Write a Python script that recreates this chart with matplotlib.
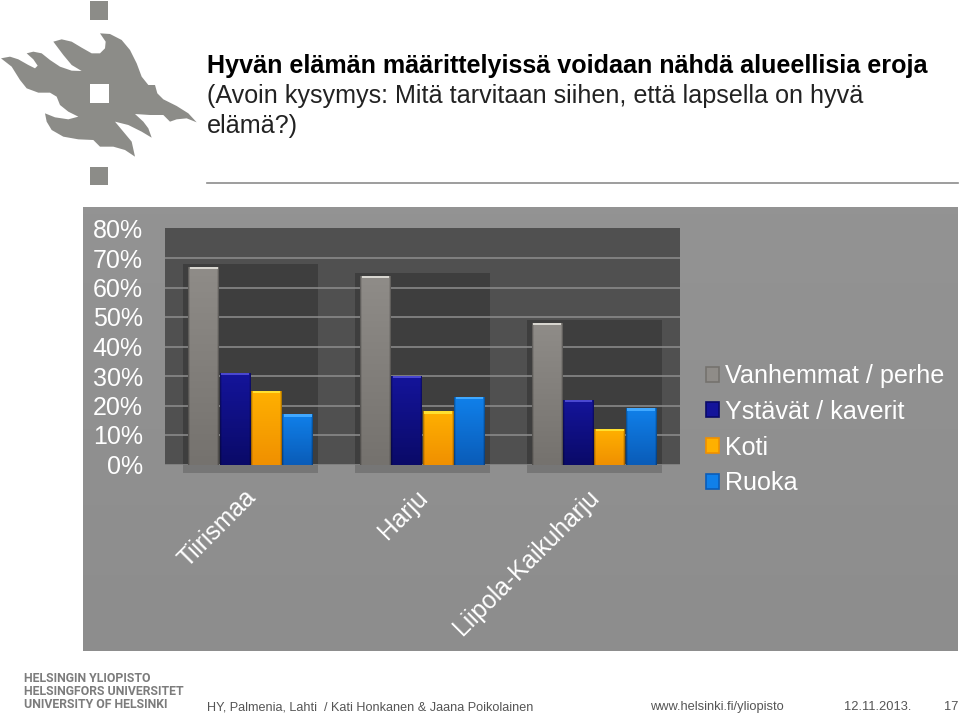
import numpy as np
import matplotlib
matplotlib.use("Agg")
import matplotlib.pyplot as plt
from matplotlib.patches import Patch, Polygon, Rectangle

plt.rcParams['font.family'] = ['Liberation Sans', 'DejaVu Sans']

categories = ["Tiirismaa", "Harju", "Liipola-Kaikuharju"]
series_names = ["Vanhemmat / perhe", "Ystävät / kaverit", "Koti", "Ruoka"]
vanhemmat = [67, 64, 48]
ystavat = [31, 30, 22]
koti = [25, 18, 12]
ruoka = [17, 23, 19]
y_ticks = [0, 10, 20, 30, 40, 50, 60, 70, 80]
y_tick_labels = ["0%", "10%", "20%", "30%", "40%", "50%", "60%", "70%", "80%"]

series_values = [vanhemmat, ystavat, koti, ruoka]
colors_top = ["#8f8c88", "#14149a", "#ffb000", "#1080ea"]
colors_bot = ["#75726e", "#0a0a68", "#f09000", "#0a5cb8"]
colors_hi = ["#d8d6d0", "#4a48d0", "#ffe030", "#40a8ff"]

W, H = 960, 714
fig = plt.figure(figsize=(W / 100, H / 100), dpi=100, facecolor="white")

def box(x0, y0, x1, y1):
    return [x0 / W, 1 - y1 / H, (x1 - x0) / W, (y1 - y0) / H]

deco = fig.add_axes([0, 0, 1, 1], zorder=0)
deco.axis("off")

LOGO = "#8c8c88"
deco.add_patch(Rectangle((89.5, 1), 18.5, 18.5, fc=LOGO, ec="none"))
deco.add_patch(Rectangle((89.5, 166.5), 18.5, 18.5, fc=LOGO, ec="none"))
flame = [(3, 175), (30, 170), (55, 178), (85, 195), (105, 205), (113, 197), (100, 178), (80, 160),
         (100, 155), (125, 160), (150, 180), (180, 200), (215, 212), (245, 213), (215, 195),
         (190, 165), (160, 125), (185, 118), (215, 125), (245, 143), (275, 160), (300, 160),
         (315, 145), (317, 125), (300, 100), (330, 102), (365, 120), (390, 150), (410, 190),
         (425, 230), (445, 255), (465, 255), (472, 280), (490, 298), (530, 318), (565, 340),
         (590, 367), (560, 355), (530, 358), (510, 365), (490, 345), (450, 345), (405, 342),
         (430, 365), (445, 385), (455, 413), (425, 395), (385, 375), (345, 365), (370, 395),
         (395, 425), (405, 470), (375, 450), (340, 440), (300, 440), (280, 420), (235, 418),
         (190, 410), (155, 390), (140, 365), (135, 340), (165, 352), (205, 358), (235, 350),
         (205, 335), (180, 315), (170, 290), (150, 278), (115, 278), (80, 265), (60, 240),
         (35, 200)]
deco.add_patch(Polygon([(a / 3, b / 3) for a, b in flame], closed=True, fc=LOGO, ec="none"))
deco.add_patch(Rectangle((89.5, 83.5), 19, 19, fc="white", ec="none"))

deco.text(207, 66, "Hyvän elämän määrittelyissä voidaan nähdä alueellisia eroja",
          fontsize=18.1, fontweight="bold", color="black", va="center", ha="left")
deco.text(207, 96, "(Avoin kysymys: Mitä tarvitaan siihen, että lapsella on hyvä",
          fontsize=18.1, color="#222222", va="center", ha="left")
deco.text(207, 125.5, "elämä?)", fontsize=18.1, color="#222222", va="center", ha="left")
deco.plot([207, 958], [183, 183], color="#8c8c8c", lw=1.2)

for yy, t in zip([678, 691.5, 705], ["HELSINGIN YLIOPISTO", "HELSINGFORS UNIVERSITET", "UNIVERSITY OF HELSINKI"]):
    deco.text(24, yy, t, fontsize=8.8, fontweight="bold", color="#7c7c7c", va="center", family="Roboto")

foot = "#555555"
deco.text(207, 707, "HY, Palmenia, Lahti  / Kati Honkanen & Jaana Poikolainen", fontsize=9.13,
          color=foot, va="center")
deco.text(650, 707, "www.helsinki.fi/yliopisto", fontsize=9.3, color=foot, va="center")
deco.text(844, 707, "12.11.2013.", fontsize=9.3, color=foot, va="center")
deco.text(944, 707, "17", fontsize=9.3, color=foot, va="center")

grad = np.linspace(0, 1, 64).reshape(-1, 1)
deco.imshow(grad, extent=(83, 958, 651, 207), cmap=matplotlib.colors.LinearSegmentedColormap.from_list(
    "p", ["#939393", "#8d8d8d"]), aspect="auto", zorder=0.5)
deco.set_xlim(0, W)
deco.set_ylim(H, 0)

ax = fig.add_axes(box(165, 228.5, 680, 464.5), zorder=1)
ax.set_facecolor("#505050")
ax.set_xlim(-0.5, 2.5)
ax.set_ylim(0, 80)
for s in ax.spines.values():
    s.set_visible(False)

x = np.arange(len(categories))
n = len(series_names)
bw = 0.1825

for xi, top in zip(x, np.max(series_values, axis=0)):
    ax.bar(xi, top + 1, width=0.785, color="#3e3e3e", zorder=1)
    ax.bar(xi, -3, width=0.785, color="#767676", zorder=1.1, clip_on=False)

ax.set_yticks(y_ticks, y_tick_labels)
ax.tick_params(axis="y", length=0, labelsize=18, labelcolor="white", pad=16)
ax.set_xticks(x, categories)
ax.tick_params(axis="x", length=0, labelsize=17.7, labelcolor="white", pad=15)
for lab in ax.get_xticklabels():
    lab.set_rotation(45)
    lab.set_ha("right")
    lab.set_va("top")
    lab.set_rotation_mode("anchor")
    lab.set_transform(lab.get_transform() + matplotlib.transforms.ScaledTranslation(-0.07, 0, fig.dpi_scale_trans))
ax.yaxis.grid(True, color="#8e8e8e", lw=1.1)
ax.set_axisbelow(False)
for gl in ax.get_ygridlines():
    gl.set_zorder(1.5)

edge_alpha = np.array([[0.3, 0.1] + [0.0] * 28 + [0.1, 0.3]])
for i, vals in enumerate(series_values):
    pos = x + (i - (n - 1) / 2) * bw
    cm = matplotlib.colors.LinearSegmentedColormap.from_list("b", [colors_top[i], colors_bot[i]])
    for p, v in zip(pos, vals):
        ax.bar(p, v, width=bw * 0.985, color=colors_top[i], zorder=3)
        ax.imshow(np.linspace(0, 1, 64).reshape(-1, 1), extent=(p - bw * 0.49, p + bw * 0.49, 0, v),
                  cmap=cm, aspect="auto", zorder=3.1)
        ax.imshow(np.zeros(edge_alpha.shape), extent=(p - bw * 0.49, p + bw * 0.49, 0, v), cmap="gray",
                  vmin=0, vmax=1, alpha=edge_alpha, aspect="auto", zorder=3.2)
        ax.bar(p, 0.8, bottom=v - 0.8, width=bw * 0.88, color=colors_hi[i], zorder=3.3)
ax.set_xlim(-0.5, 2.5)
ax.set_ylim(0, 80)

handles = [Patch(facecolor=colors_top[i], edgecolor=colors_bot[i], lw=1.2) for i in range(n)]
fig.legend(handles, series_names, loc="upper left", bbox_to_anchor=(698 / W, 1 - 356.5 / H),
           frameon=False, fontsize=18.1, labelcolor="white", handlelength=0.54, handleheight=0.54,
           handletextpad=0.22, labelspacing=0.47, borderpad=0.3, borderaxespad=0)

fig.savefig("out.png", dpi=100, facecolor="white")
